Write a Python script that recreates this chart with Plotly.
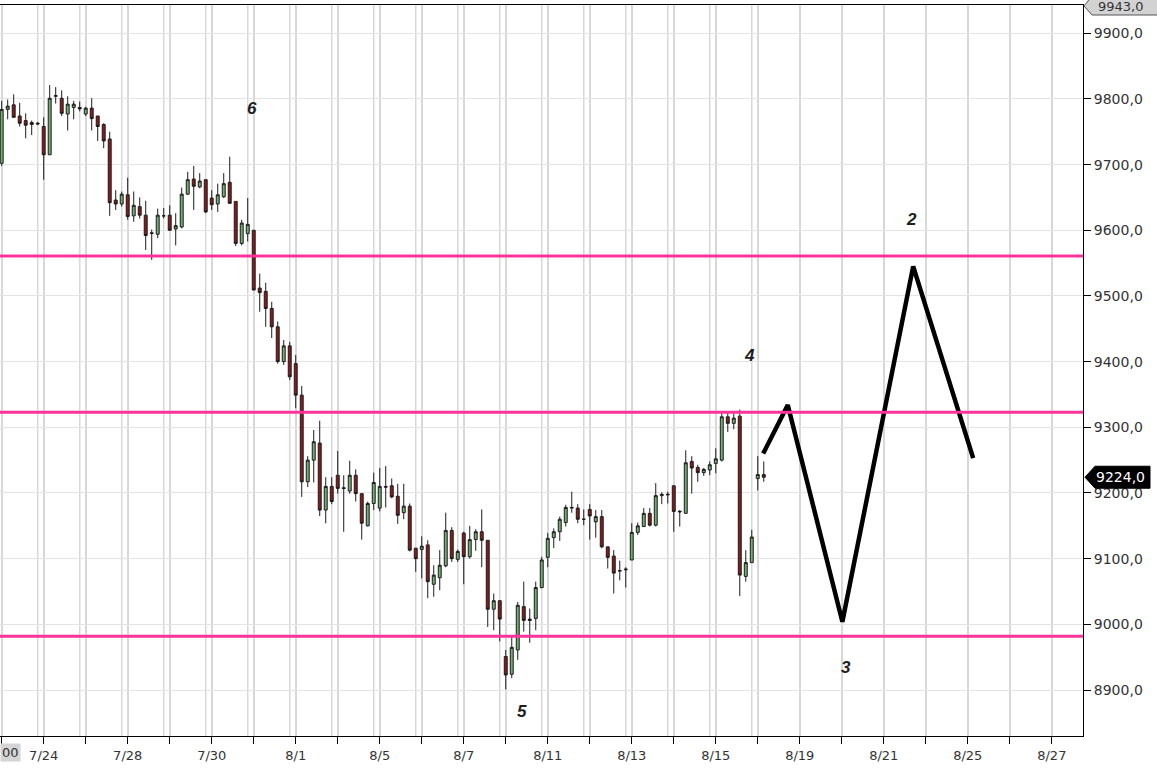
import plotly.graph_objects as go

# ---------------- data (2-hour bars, 7 per trading day) ----------------
opens = [9702, 9784, 9791, 9774, 9767, 9764, 9763, 9758, 9715, 9804,
         9801, 9777, 9787, 9787, 9777, 9786, 9774, 9761, 9739, 9646,
         9640, 9654, 9622, 9636, 9623, 9595, 9594, 9622, 9623, 9602,
         9605, 9655, 9678, 9666, 9677, 9649, 9640, 9651, 9673, 9644,
         9580, 9595, 9600, 9512, 9507, 9481, 9453, 9400, 9424, 9397,
         9349, 9217, 9250, 9276, 9174, 9210, 9227, 9208, 9203, 9227,
         9199, 9150, 9184, 9177, 9210, 9211, 9195, 9170, 9180, 9116,
         9114, 9121, 9061, 9071, 9089, 9143, 9099, 9139, 9103, 9129,
         9141, 9128, 9023, 9036, 8951, 8924, 8961, 9027, 9008, 9009,
         9056, 9102, 9132, 9141, 9155, 9177, 9177, 9160, 9175, 9156,
         9164, 9118, 9104, 9081, 9083, 9098, 9140, 9149, 9169, 9151,
         9196, 9197, 9211, 9171, 9169, 9248, 9239, 9231, 9235, 9245,
         9250, 9316, 9306, 9317, 9073, 9094, 9222, 9228]
highs = [9797, 9799, 9807, 9794, 9778, 9767, 9765, 9772, 9821, 9818,
         9813, 9804, 9797, 9796, 9788, 9801, 9774, 9763, 9750, 9661,
         9659, 9680, 9659, 9650, 9645, 9601, 9633, 9634, 9638, 9626,
         9665, 9689, 9698, 9687, 9677, 9661, 9671, 9687, 9712, 9644,
         9616, 9649, 9600, 9534, 9520, 9491, 9461, 9433, 9430, 9410,
         9363, 9256, 9296, 9310, 9224, 9224, 9264, 9227, 9249, 9236,
         9199, 9187, 9231, 9238, 9241, 9222, 9214, 9214, 9184, 9116,
         9134, 9128, 9090, 9113, 9170, 9148, 9114, 9141, 9150, 9145,
         9175, 9128, 9047, 9036, 8961, 8981, 9034, 9065, 9024, 9065,
         9103, 9139, 9146, 9164, 9182, 9202, 9183, 9175, 9183, 9174,
         9174, 9118, 9113, 9097, 9087, 9154, 9155, 9177, 9177, 9215,
         9201, 9202, 9211, 9174, 9265, 9256, 9243, 9238, 9248, 9268,
         9321, 9324, 9321, 9327, 9113, 9144, 9256, 9248]
lows = [9698, 9769, 9772, 9758, 9740, 9745, 9760, 9677, 9715, 9793,
        9774, 9752, 9769, 9781, 9774, 9752, 9736, 9725, 9622, 9631,
        9636, 9616, 9613, 9618, 9570, 9555, 9588, 9618, 9600, 9577,
        9603, 9654, 9631, 9664, 9626, 9631, 9628, 9649, 9641, 9576,
        9577, 9583, 9509, 9476, 9453, 9436, 9397, 9395, 9372, 9329,
        9194, 9209, 9216, 9165, 9154, 9183, 9199, 9141, 9199, 9187,
        9129, 9149, 9174, 9172, 9178, 9192, 9153, 9160, 9111, 9080,
        9070, 9040, 9042, 9052, 9087, 9095, 9095, 9061, 9100, 9112,
        9087, 8996, 8991, 8974, 8901, 8918, 8946, 8989, 8972, 8991,
        9055, 9087, 9116, 9127, 9149, 9170, 9154, 9151, 9129, 9132,
        9116, 9085, 9047, 9067, 9056, 9098, 9136, 9148, 9149, 9149,
        9183, 9184, 9141, 9149, 9169, 9199, 9217, 9226, 9227, 9230,
        9248, 9293, 9297, 9043, 9065, 9094, 9204, 9217]
closes = [9784, 9789, 9772, 9763, 9760, 9761, 9762, 9715, 9801, 9805,
          9778, 9792, 9792, 9785, 9786, 9770, 9758, 9736, 9642, 9640,
          9655, 9621, 9638, 9623, 9592, 9596, 9623, 9622, 9600, 9607,
          9655, 9677, 9667, 9675, 9628, 9639, 9654, 9671, 9641, 9580,
          9611, 9609, 9509, 9505, 9481, 9453, 9400, 9424, 9377, 9349,
          9217, 9250, 9278, 9174, 9210, 9187, 9207, 9207, 9227, 9199,
          9154, 9184, 9216, 9210, 9209, 9194, 9166, 9180, 9113, 9100,
          9119, 9065, 9075, 9090, 9143, 9100, 9111, 9103, 9129, 9141,
          9128, 9023, 9036, 9008, 8923, 8965, 9029, 9006, 9006, 9056,
          9098, 9131, 9141, 9160, 9178, 9178, 9160, 9160, 9165, 9164,
          9118, 9102, 9078, 9082, 9084, 9140, 9150, 9169, 9151, 9196,
          9198, 9198, 9172, 9172, 9246, 9238, 9231, 9236, 9243, 9252,
          9316, 9306, 9314, 9075, 9094, 9133, 9228, 9224]

trading_days = ["7/23", "7/24", "7/25", "7/28", "7/29", "7/30", "7/31", "8/1",
                "8/4", "8/5", "8/6", "8/7", "8/8", "8/11", "8/12", "8/13",
                "8/14", "8/15", "8/18", "8/19", "8/20", "8/21", "8/22",
                "8/25", "8/26", "8/27"]
labelled_days = ["7/24", "7/28", "7/30", "8/1", "8/5", "8/7", "8/11", "8/13",
                 "8/15", "8/19", "8/21", "8/25", "8/27"]
bars_per_day = 7

# support / resistance levels
levels = [9561, 9323, 8982]

# projected path (bar index, price)
proj_k = [126.9, 131.0, 140.1, 151.9, 161.9]
proj_v = [9260, 9334, 9004, 9545, 9253]

# wave count labels
wave_text = ["6", "5", "4", "3", "2"]
wave_k = [41.7, 86.7, 124.7, 140.7, 151.7]
wave_v = [9786, 8868, 9409, 8934, 9616]

y_ticks = [8900, 9000, 9100, 9200, 9300, 9400, 9500, 9600, 9700, 9800, 9900]
y_top = 9943

# ---------------- styling ----------------
W, H = 1157, 769
ML, MR, MT, MB = 0, 74, 5, 33
PW, PH = W - ML - MR, H - MT - MB
YMIN, YMAX = 8830, y_top
XMIN, XMAX = -0.283, 180.2
GREEN = "#72ad72"
RED = "#8a1a1a"
EDGE = "#1c1c1c"
PINK = "#ff3399"
GRID_V = "#d8d8d8"
GRID_H = "#e4e4e4"
TXT = "#333333"
FONT = "DejaVu Sans, Liberation Sans, Arial, sans-serif"

def px_x(px):
    return (px - ML) / PW

def px_y(py):
    return (MT + PH - py) / PH

def val_y(v):
    return (v - YMIN) / (YMAX - YMIN)

x_idx = list(range(len(opens)))

fig = go.Figure()
fig.add_trace(go.Candlestick(
    x=x_idx, open=opens, high=highs, low=lows, close=closes,
    increasing=dict(fillcolor=GREEN, line=dict(color=EDGE, width=1)),
    decreasing=dict(fillcolor=RED, line=dict(color=EDGE, width=1)),
    whiskerwidth=0, showlegend=False, hoverinfo="skip"))

fig.add_trace(go.Scatter(
    x=proj_k, y=proj_v, mode="lines",
    line=dict(color="#000000", width=4.5),
    showlegend=False, hoverinfo="skip"))

tick_vals = [i * bars_per_day for i in range(len(trading_days))]
tick_text = [d if d in labelled_days else "" for d in trading_days]

shapes = []
# extra day-boundary gridlines (last bar of each previous day) where data exist
n_days_data = (len(opens) - 1) // bars_per_day + 1
for i in range(1, n_days_data):
    shapes.append(dict(type="line", xref="x", yref="paper",
                       x0=i * bars_per_day - 1, x1=i * bars_per_day - 1,
                       y0=0, y1=1, layer="below",
                       line=dict(color=GRID_V, width=1.5)))
for lv in levels:
    shapes.append(dict(type="line", xref="paper", yref="y", x0=0, x1=1,
                       y0=lv, y1=lv, layer="above",
                       line=dict(color=PINK, width=3)))

# top-right axis max label box (arrow shaped)
top_c = 6
shapes.append(dict(type="path", xref="paper", yref="paper",
                   path=(f"M {px_x(1084)} {px_y(top_c)} L {px_x(1092)} {px_y(top_c-10)} "
                         f"L {px_x(1160)} {px_y(top_c-10)} L {px_x(1160)} {px_y(top_c+9)} "
                         f"L {px_x(1092)} {px_y(top_c+9)} Z"),
                   fillcolor="#d2d2d2", line=dict(color="#555555", width=1),
                   layer="above"))
# last price marker
last = closes[-1]
ly = val_y(last)
ph = 11 / PH
shapes.append(dict(type="path", xref="paper", yref="paper",
                   path=(f"M {px_x(1085)} {ly} L {px_x(1095)} {ly + ph} "
                         f"L {px_x(1150)} {ly + ph} L {px_x(1150)} {ly - ph} "
                         f"L {px_x(1095)} {ly - ph} Z"),
                   fillcolor="#000000", line=dict(color="#000000", width=1),
                   layer="above"))

annotations = []
for t, k, v in zip(wave_text, wave_k, wave_v):
    annotations.append(dict(x=k, y=v, xref="x", yref="y", text=f"<b><i>{t}</i></b>",
                            showarrow=False, xanchor="center", yanchor="middle",
                            font=dict(family="Liberation Sans, Arial, sans-serif",
                                      size=17, color="#1e1e1e")))
annotations.append(dict(x=px_x(1121), y=px_y(top_c + 1), xref="paper", yref="paper",
                        text=f"{y_top:.1f}".replace(".", ","), showarrow=False,
                        xanchor="center", yanchor="middle",
                        font=dict(family=FONT, size=13, color=TXT)))
annotations.append(dict(x=px_x(1120), y=ly, xref="paper", yref="paper",
                        text=f"{last:.1f}".replace(".", ","), showarrow=False,
                        xanchor="center", yanchor="middle",
                        font=dict(family=FONT, size=14, color="#ffffff")))
annotations.append(dict(x=0, y=px_y(752), xref="paper", yref="paper", text="00",
                        xanchor="left", yanchor="middle", showarrow=False,
                        bgcolor="#d4d4d4", borderpad=1,
                        font=dict(family=FONT, size=13, color=TXT)))

fig.update_layout(
    width=W, height=H, autosize=False,
    margin=dict(l=ML, r=MR, t=MT, b=MB, pad=0),
    paper_bgcolor="white", plot_bgcolor="white",
    showlegend=False, hovermode=False,
    shapes=shapes, annotations=annotations,
    xaxis=dict(range=[XMIN, XMAX], type="linear", rangeslider=dict(visible=False),
               tickmode="array", tickvals=tick_vals, ticktext=tick_text,
               ticks="outside", ticklen=7, tickwidth=1, tickcolor="#000000",
               showline=True, linecolor="#000000", linewidth=1, mirror=True,
               showgrid=True, gridcolor=GRID_V, gridwidth=1.5, zeroline=False,
               tickfont=dict(family=FONT, size=13, color=TXT)),
    yaxis=dict(range=[YMIN, YMAX], side="right",
               tickmode="array", tickvals=y_ticks,
               ticktext=[f"{v:.1f}".replace(".", ",") for v in y_ticks],
               ticks="outside", ticklen=7, tickwidth=1, tickcolor="#000000",
               showline=True, linecolor="#000000", linewidth=1,
               showgrid=True, gridcolor=GRID_H, gridwidth=1, zeroline=False,
               tickfont=dict(family=FONT, size=14, color=TXT)),
)

fig.write_html("out.html", config={"displayModeBar": False},
               post_script="document.body.style.margin='0px';")
